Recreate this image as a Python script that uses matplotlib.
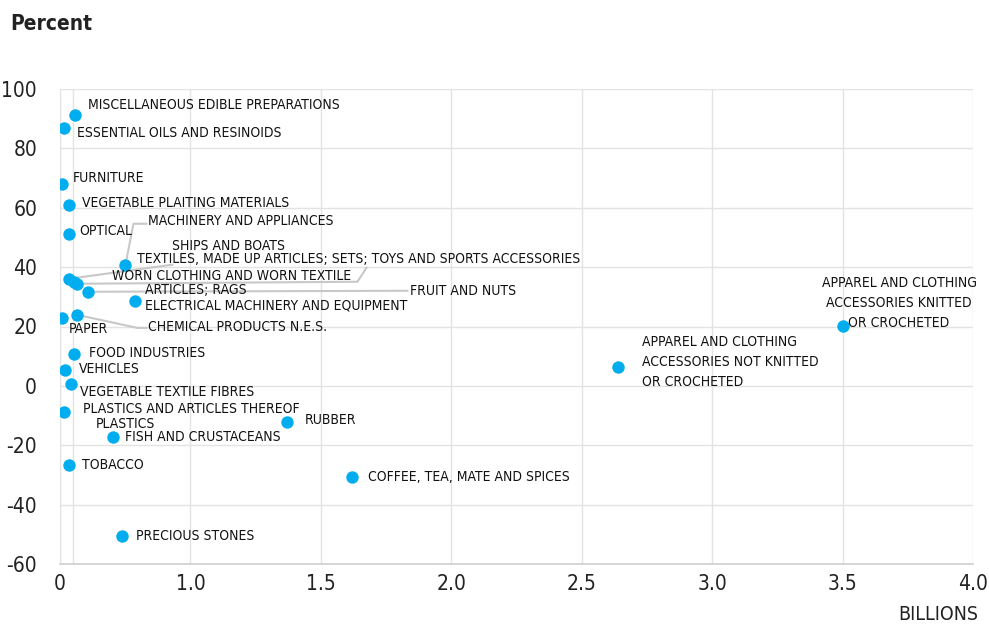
import matplotlib
matplotlib.use("Agg")
import matplotlib.pyplot as plt
from matplotlib.transforms import IdentityTransform

plt.rcParams["font.family"] = ["DejaVu Sans"]
plt.rcParams["font.stretch"] = "condensed"
plt.rcParams["axes.unicode_minus"] = False

DOT_COLOR = "#00AEEF"
GRID_COLOR = "#E3E3E3"
LEADER_COLOR = "#C8C8C8"
TEXT_COLOR = "#111111"

# data: value in billions (x) and percent change (y)
CATEGORIES = [
    "MISCELLANEOUS EDIBLE PREPARATIONS",
    "ESSENTIAL OILS AND RESINOIDS",
    "FURNITURE",
    "VEGETABLE PLAITING MATERIALS",
    "OPTICAL",
    "MACHINERY AND APPLIANCES",
    "SHIPS AND BOATS",
    "WORN CLOTHING AND WORN TEXTILE ARTICLES; RAGS",
    "TEXTILES, MADE UP ARTICLES; SETS; TOYS AND SPORTS ACCESSORIES",
    "FRUIT AND NUTS",
    "ELECTRICAL MACHINERY AND EQUIPMENT",
    "PAPER",
    "CHEMICAL PRODUCTS N.E.S.",
    "FOOD INDUSTRIES",
    "VEHICLES",
    "VEGETABLE TEXTILE FIBRES",
    "PLASTICS AND ARTICLES THEREOF PLASTICS",
    "FISH AND CRUSTACEANS",
    "RUBBER",
    "TOBACCO",
    "PRECIOUS STONES",
    "COFFEE, TEA, MATE AND SPICES",
    "APPAREL AND CLOTHING\nACCESSORIES NOT KNITTED\nOR CROCHETED",
    "APPAREL AND CLOTHING\nACCESSORIES KNITTED\nOR CROCHETED",
]
VALUE_BN = [0.559, 0.517, 0.506, 0.533, 0.536, 0.751, 0.536, 0.552, 0.567,
            0.609, 0.789, 0.506, 0.567, 0.552, 0.521, 0.544, 0.517, 0.705,
            1.372, 0.536, 0.739, 1.621, 2.640, 3.502]
CHANGE_PCT = [91.1, 87.0, 68.1, 61.0, 51.3, 40.8, 36.1, 35.1, 34.4, 31.7,
              28.7, 22.9, 23.9, 10.8, 5.4, 0.7, -8.8, -17.2, -12.1, -26.6,
              -50.6, -30.7, 6.4, 20.2]

X_TICKS = [0.5, 1.0, 1.5, 2.0, 2.5, 3.0, 3.5, 4.0]
X_TICK_LABELS = ["0", "1.0", "1.5", "2.0", "2.5", "3.0", "3.5", "4.0"]
Y_TICKS = [-60, -40, -20, 0, 20, 40, 60, 80, 100]

# label placement: pixel offset of the text anchor from its dot
LABEL_OFFSETS = [(13, 10), (13, -5), (11, 6), (13, 2), (10, 3), (23, 44),
                 (103, 33), (38, 6), (60, 25), (322, 1), (10, -5), (7, -11),
                 (71, -12), (15, 1), (13, 1), (9, -8), (19, 3), (12, 0),
                 (17, 2), (13, 0), (14, 0), (16, 0), (24, 5), (56, 23)]
# labels drawn as separate pieces
SPLIT_LABELS = {
    7: [("WORN CLOTHING AND WORN TEXTILE", 38, 6), ("ARTICLES; RAGS", 71, -8)],
    16: [("PLASTICS AND ARTICLES THEREOF", 19, 3), ("PLASTICS", 31, -12)],
}
# leader lines, pixel offsets from the dot
LEADERS = {
    5: [(0, 0), (8, 41), (21, 41)],
    6: [(0, 0), (103, 14)],
    8: [(0, 0), (280, 2), (289, 16)],
    9: [(0, 0), (319, 1)],
    12: [(0, 0), (60, -13), (69, -13)],
}

fig = plt.figure(figsize=(9.89, 6.25), dpi=100)
ax = fig.add_axes([60 / 989, 1 - 564 / 625, 913 / 989, 475 / 625])

ax.set_xlim(0.5, 4.0)
ax.set_ylim(-60, 100)
ax.set_xticks(X_TICKS)
ax.set_xticklabels(X_TICK_LABELS)
ax.set_xticks([0.55], minor=True)
ax.set_yticks(Y_TICKS)
ax.grid(True, which="both", color=GRID_COLOR, linewidth=1)
ax.set_axisbelow(True)
ax.tick_params(which="both", length=0)
ax.tick_params(axis="y", pad=16.5, labelsize=15, labelcolor="#222222")
ax.tick_params(axis="x", pad=7, labelsize=15, labelcolor="#222222")
for side in ["top", "right"]:
    ax.spines[side].set_visible(False)
ax.spines["left"].set_color(GRID_COLOR)
ax.spines["bottom"].set_color("#CFCFCF")
ax.spines["bottom"].set_linewidth(1.2)

ax.scatter(VALUE_BN, CHANGE_PCT, s=80, color=DOT_COLOR, zorder=3,
           linewidths=0)

for i, (x, y) in enumerate(zip(VALUE_BN, CHANGE_PCT)):
    px, py = ax.transData.transform((x, y))
    if i in LEADERS:
        pts = LEADERS[i]
        ax.plot([px + dx for dx, _ in pts], [py + dy for _, dy in pts],
                transform=IdentityTransform(), color=LEADER_COLOR,
                linewidth=1.5, zorder=2, clip_on=False)
    pieces = SPLIT_LABELS.get(i, [(CATEGORIES[i],) + LABEL_OFFSETS[i]])
    for text, dx, dy in pieces:
        centered = i == 23
        ax.annotate(text, (x, y), xytext=(dx, dy), textcoords="offset pixels",
                    ha="center" if centered else "left", va="center",
                    multialignment="center" if centered else "left",
                    fontsize=10, color=TEXT_COLOR,
                    linespacing=1.55, zorder=4)

fig.text(10 / 989, 1 - 24 / 625, "Percent", fontsize=15, fontweight="bold",
         color="#222222", va="center", ha="left")
fig.text(978 / 989, 1 - 614 / 625, "BILLIONS", fontsize=14,
         color="#222222", va="center", ha="right")

fig.savefig("out.png", dpi=100)
